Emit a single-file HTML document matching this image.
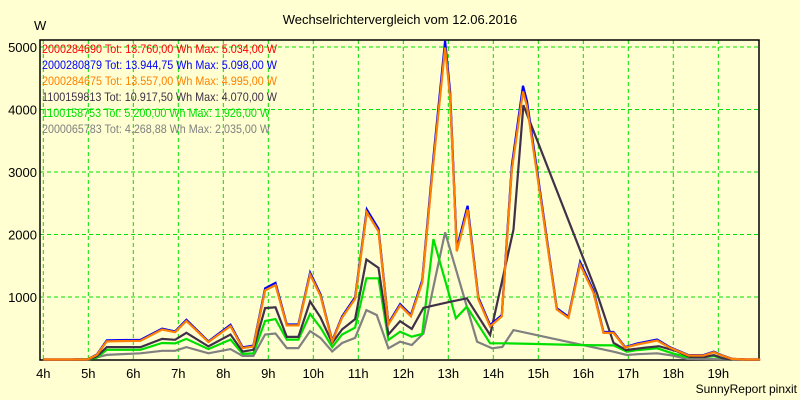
<!DOCTYPE html>
<html><head><meta charset="utf-8">
<style>
html,body{margin:0;padding:0;background:#ffffd2;}
svg{display:block;font-family:"Liberation Sans",Arial,sans-serif;}
</style></head>
<body>
<svg id="chart" width="800" height="400" viewBox="0 0 800 400" xmlns="http://www.w3.org/2000/svg">
<rect x="0" y="0" width="800" height="400" fill="#ffffd2"/>
<text x="400" y="24" font-size="13" text-anchor="middle" fill="#000">Wechselrichtervergleich vom 12.06.2016</text>
<text x="34" y="30" font-size="13" fill="#000">W</text>
<text x="797" y="393" font-size="12" text-anchor="end" fill="#000">SunnyReport pinxit</text>
<g id="grid"></g>
<g id="axes"></g>
<g id="series"></g>
<g id="legend"></g>
</svg>
<script>
const xTicks = [4,5,6,7,8,9,10,11,12,13,14,15,16,17,18,19];
const yTicks = [1000,2000,3000,4000,5000];

const orangeH = [4.0,4.67,4.98,5.19,5.41,6.16,6.64,6.93,7.18,7.67,8.16,8.43,8.67,8.93,9.16,9.41,9.67,9.93,10.16,10.42,10.64,10.93,11.19,11.45,11.67,11.93,12.17,12.42,12.67,12.93,13.04,13.19,13.43,13.67,13.93,14.19,14.41,14.66,14.75,14.96,15.41,15.67,15.93,16.23,16.45,16.67,16.93,17.19,17.64,17.93,18.34,18.67,18.9,19.08,19.3,19.6,19.93];
const orangeV = [0,0,0,73,290,300,480,437,616,280,535,183,209,1105,1190,545,545,1360,1020,290,670,970,2355,2050,560,862,692,1230,3150,4990,4200,1730,2400,960,530,690,3030,4290,4050,3030,800,665,1520,1065,425,425,190,240,304,187,64,64,117,64,10,0,0];
const blueV = [0,0,0,80,305,315,495,450,635,290,555,195,222,1140,1225,560,560,1390,1045,300,690,995,2400,2090,580,885,712,1265,3230,5098,4290,1780,2460,990,550,710,3100,4380,4130,3090,820,685,1560,1095,440,440,200,255,320,195,70,70,125,68,12,0,0];
const redV = [0,0,0,76,296,306,486,443,624,284,542,187,213,1115,1200,550,550,1370,1030,294,678,980,2370,2065,566,870,698,1240,3175,5034,4230,1750,2420,970,538,698,3055,4320,4080,3050,808,672,1535,1075,430,430,193,245,310,190,66,66,120,66,11,0,0];

const darkH = [4.67,5.0,5.19,5.41,6.16,6.64,6.93,7.18,7.67,8.16,8.43,8.67,8.93,9.16,9.41,9.67,9.93,10.16,10.42,10.64,10.93,11.18,11.45,11.67,11.93,12.19,12.45,13.0,13.41,13.93,14.45,14.67,16.3,16.67,16.95,17.34,17.68,18.08,18.37,18.7,18.9,19.1,19.3];
const darkV = [0,0,50,199,199,330,316,427,209,400,127,155,823,836,362,362,929,673,264,482,646,1600,1465,400,613,490,827,917,980,392,2080,4070,1065,267,150,187,213,133,40,40,70,20,0];

const greenH = [4.67,5.0,5.19,5.41,6.16,6.64,6.93,7.18,7.67,8.16,8.43,8.67,8.93,9.16,9.41,9.67,9.93,10.16,10.42,10.64,10.93,11.18,11.45,11.67,11.93,12.19,12.42,12.67,13.17,13.41,13.93,14.27,14.86,16.0,16.67,16.97,17.2,17.64,17.98,18.3,18.7,18.9,19.1,19.3];
const greenV = [0,0,30,155,155,264,258,330,166,318,90,100,616,646,319,319,728,510,199,400,510,1300,1300,312,445,365,408,1926,660,845,260,260,250,230,225,125,150,180,100,40,40,55,20,0];

const grayH = [4.67,5.0,5.41,6.16,6.64,6.93,7.18,7.67,8.16,8.43,8.67,8.93,9.16,9.41,9.67,9.93,10.16,10.42,10.64,10.93,11.18,11.41,11.67,11.93,12.19,12.45,12.93,13.64,13.97,14.2,14.45,16.67,16.97,17.2,17.64,17.98,18.3,19.6];
const grayV = [0,0,73,100,140,140,199,100,166,57,57,400,416,183,183,455,346,128,264,346,790,710,180,285,232,420,2035,285,180,200,470,125,72,85,100,64,10,0];

const legendLabels = [
 "2000284690 Tot: 13.760,00 Wh Max: 5.034,00 W",
 "2000280879 Tot: 13.944,75 Wh Max: 5.098,00 W",
 "2000284675 Tot: 13.557,00 Wh Max: 4.995,00 W",
 "1100159813 Tot: 10.917,50 Wh Max: 4.070,00 W",
 "1100158753 Tot: 5.200,00 Wh Max: 1.926,00 W",
 "2000065783 Tot: 4.268,88 Wh Max: 2.035,00 W"
];

const NS = "http://www.w3.org/2000/svg";
const L = 40, R = 759, T = 40, B = 360;
function xs(h){ return 43.3 + 45*(h-4); }
function ys(v){ return 359.5 - v*0.0625; }
function mk(tag, attrs, parent){
  const e = document.createElementNS(NS, tag);
  for (const k in attrs) e.setAttribute(k, attrs[k]);
  parent.appendChild(e);
  return e;
}
const grid = document.getElementById('grid');
const axes = document.getElementById('axes');
const series = document.getElementById('series');
const legend = document.getElementById('legend');

xTicks.forEach(h=>{
  const x = xs(h);
  const gl = mk('line',{x1:x,y1:T,x2:x,y2:B,stroke:'#00e000','stroke-width':1,'stroke-dasharray':'4,3'},grid);
  
  
  const t = mk('text',{x:x,y:378,'font-size':13,'text-anchor':'middle',fill:'#000'},axes);
  t.textContent = h + 'h';
  
  
});
yTicks.forEach(v=>{
  const y = ys(v);
  const gl = mk('line',{x1:L,y1:y,x2:R,y2:y,stroke:'#00e000','stroke-width':1,'stroke-dasharray':'4,3'},grid);
  
  
  const t = mk('text',{x:37,y:y+5,'font-size':13,'text-anchor':'end',fill:'#000'},axes);
  t.textContent = v;
  
  
});
const frame = mk('rect',{x:L,y:T,width:R-L,height:B-T,fill:'none',stroke:'#000','stroke-width':1.5},axes);



function drawLine(H, V, color, name){
  const pts = H.map((h,i)=> xs(h).toFixed(1)+','+ys(V[i]).toFixed(1)).join(' ');
  const p = mk('polyline',{points:pts,fill:'none',stroke:color,'stroke-width':2.2,'stroke-linejoin':'miter'},series);
  
  
}
drawLine(grayH, grayV, '#808080', 'series-2000065783');
drawLine(greenH, greenV, '#00e000', 'series-1100158753');
drawLine(darkH, darkV, '#403048', 'series-1100159813');
drawLine(orangeH, redV, '#ff0000', 'series-2000284690');
drawLine(orangeH, blueV, '#0000ff', 'series-2000280879');
drawLine(orangeH, orangeV, '#ff8000', 'series-2000284675');

const legendColors = ['#ff0000','#0000ff','#ff8000','#403048','#00e000','#808080'];
legendLabels.forEach((s,i)=>{
  const t = mk('text',{x:42,y:53+i*16,'font-size':12,fill:legendColors[i],textLength:(i>=4?228:235),lengthAdjust:'spacingAndGlyphs'},legend);
  t.textContent = s;
  
  
});
</script>
</body></html>
